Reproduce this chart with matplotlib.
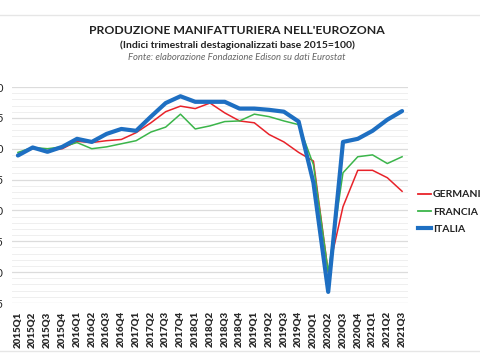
import matplotlib
matplotlib.use("Agg")
import matplotlib.pyplot as plt
from matplotlib.lines import Line2D
import numpy as np

quarters = ["2015Q1","2015Q2","2015Q3","2015Q4","2016Q1","2016Q2","2016Q3","2016Q4",
            "2017Q1","2017Q2","2017Q3","2017Q4","2018Q1","2018Q2","2018Q3","2018Q4",
            "2019Q1","2019Q2","2019Q3","2019Q4","2020Q1","2020Q2","2020Q3","2020Q4",
            "2021Q1","2021Q2","2021Q3"]
germania = [99.0, 100.0, 99.7, 100.0, 101.2, 101.0, 101.3, 101.5,
            102.6, 104.2, 106.0, 106.9, 106.5, 107.4, 105.8, 104.5,
            104.2, 102.3, 101.1, 99.4, 98.0, 80.0, 90.6, 96.5,
            96.5, 95.3, 93.1]
francia = [99.4, 100.2, 100.0, 100.3, 101.0, 100.0, 100.3, 100.8,
           101.3, 102.7, 103.5, 105.6, 103.2, 103.7, 104.4, 104.5,
           105.6, 105.2, 104.5, 103.9, 97.4, 80.0, 96.1, 98.7,
           99.0, 97.6, 98.7]
italia = [98.9, 100.2, 99.5, 100.3, 101.6, 101.1, 102.4, 103.2,
          102.9, 105.2, 107.4, 108.5, 107.6, 107.6, 107.6, 106.5,
          106.5, 106.3, 106.0, 104.4, 94.5, 76.8, 101.1, 101.6,
          102.9, 104.7, 106.1]
yticks = [75, 80, 85, 90, 95, 100, 105, 110]

FONT = ["Lato", "DejaVu Sans"]
plt.rcParams['font.family'] = FONT

fig = plt.figure(figsize=(4.8, 3.6), dpi=100)
ax = fig.add_axes([12/480, 1-303/360, (408-12)/480, (303-87)/360])

x = np.arange(len(quarters))
ax.plot(x, germania, color="#E8232A", lw=1.1, label="GERMANIA", zorder=3)
ax.plot(x, francia, color="#3BB54A", lw=1.1, label="FRANCIA", zorder=3)
ax.plot(x, italia, color="#1E6FC2", lw=3.0, label="ITALIA", zorder=4,
        solid_capstyle="round", solid_joinstyle="round")

ax.set_xlim(-0.4, len(quarters) - 0.6)
ax.set_ylim(75, 110)
ax.set_yticks(yticks)
ax.set_yticklabels([str(v) for v in yticks], fontsize=8, color="#222222")
ax.set_yticks(np.arange(75, 111, 1), minor=True)
ax.set_xticks(x)
ax.set_xticklabels(quarters, rotation=90, fontsize=7, fontweight="heavy", color="#2a2a2a")
ax.tick_params(axis="both", which="both", length=0)
ax.tick_params(axis="y", pad=6)
ax.tick_params(axis="x", pad=6)
ax.grid(axis="y", which="major", color="#dcdcdc", lw=0.9, zorder=0)
ax.grid(axis="y", which="minor", color="#efefef", lw=0.7, zorder=0)
ax.set_axisbelow(True)
for s in ax.spines.values():
    s.set_visible(False)

fig.text(237/480, 1-30/360, "PRODUZIONE MANIFATTURIERA NELL'EUROZONA",
         ha="center", va="center", fontsize=8.8, fontweight="bold", color="#222222")
fig.text(237/480, 1-45/360, "(Indici trimestrali destagionalizzati base 2015=100)",
         ha="center", va="center", fontsize=7.5, fontweight="bold", color="#222222")
fig.text(237/480, 1-58/360, "Fonte: elaborazione Fondazione Edison su dati Eurostat",
         ha="center", va="center", fontsize=6.8, style="italic", color="#666666")

fig.legend(handles=[Line2D([], [], color="#E8232A", lw=1.3),
                    Line2D([], [], color="#3BB54A", lw=1.3),
                    Line2D([], [], color="#1E6FC2", lw=3.0)],
           labels=["GERMANIA", "FRANCIA", "ITALIA"],
           loc="upper left", bbox_to_anchor=(414/480, 1-186/360),
           frameon=False, handlelength=1.2, handletextpad=0.2,
           labelspacing=0.75, prop={"family": FONT, "weight": "bold", "size": 7.5},
           labelcolor="#222222", borderaxespad=0)

fig.add_artist(Line2D([0, 1], [1-15/360, 1-15/360], color="#e6e6e6", lw=1, transform=fig.transFigure))
fig.add_artist(Line2D([0, 1], [1-351/360, 1-351/360], color="#e6e6e6", lw=1, transform=fig.transFigure))

fig.savefig("out.png", dpi=100)
